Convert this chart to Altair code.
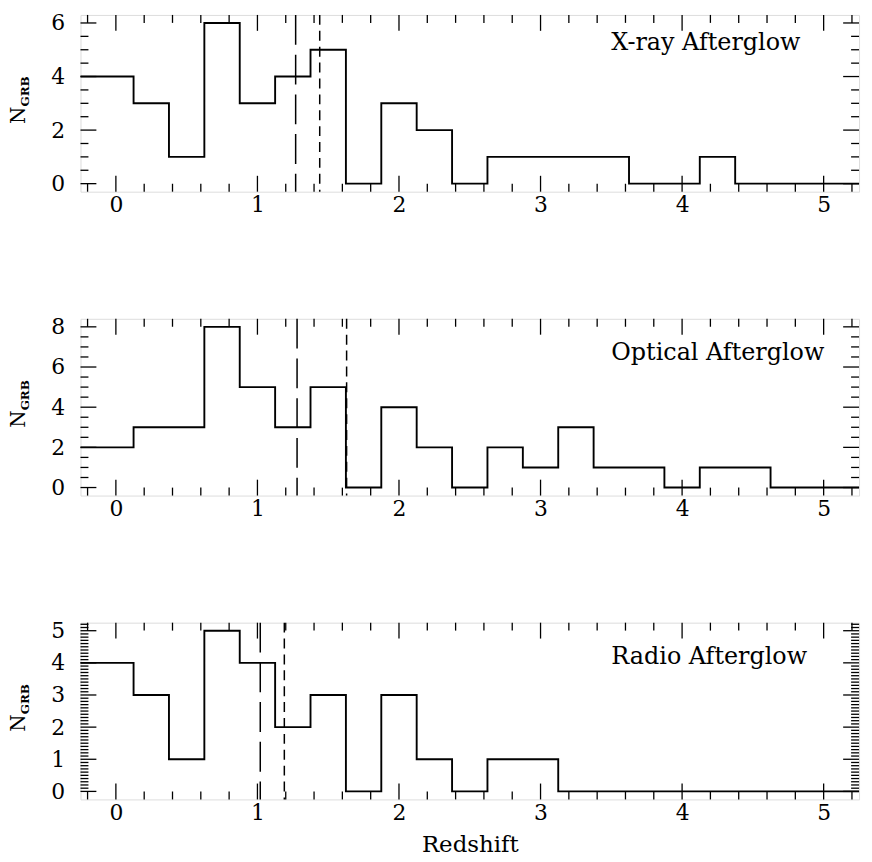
import altair as alt
import pandas as pd

# ---------------- data ----------------
bin_centers = [0.0, 0.25, 0.5, 0.75, 1.0, 1.25, 1.5, 1.75, 2.0, 2.25, 2.5,
               2.75, 3.0, 3.25, 3.5, 3.75, 4.0, 4.25, 4.5, 4.75, 5.0]
xray_counts = [4, 3, 1, 6, 3, 4, 5, 0, 3, 2, 0, 1, 1, 1, 1, 0, 0, 1, 0, 0, 0]
optical_counts = [2, 3, 3, 8, 5, 3, 5, 0, 4, 2, 0, 2, 1, 3, 1, 1, 0, 1, 1, 0, 0]
radio_counts = [4, 3, 1, 5, 4, 2, 3, 0, 3, 1, 0, 1, 1, 0, 0, 0, 0, 0, 0, 0, 0]

panel_labels = ["X-ray Afterglow", "Optical Afterglow", "Radio Afterglow"]
label_z = [3.5, 3.5, 3.5]
label_n = [5.0, 6.37, 3.96]
long_dash_z = [1.27, 1.28, 1.02]
short_dash_z = [1.44, 1.63, 1.19]
y_max = [6, 8, 5]
y_major = [[0, 2, 4, 6], [0, 2, 4, 6, 8], [0, 1, 2, 3, 4, 5]]
y_minor_step = [0.5, 0.5, 0.1]
x_major = [0, 1, 2, 3, 4, 5]
X_MIN, X_MAX = -0.25, 5.25
HALF_BIN = 0.125

W, H = 784, 178
FONT = "DejaVu Serif"
MAJ, MIN = 16, 8


def frange(a, b, step):
    out = []
    k = 0
    while True:
        v = round(a + k * step, 4)
        if v > b + 1e-9:
            break
        out.append(v)
        k += 1
    return out


def panel(counts, label, lz, ln, zl, zs, ymax, ymaj, ystep, show_title):
    ymin_d, ymax_d = -0.05 * ymax, 1.05 * ymax
    xs = alt.Scale(domain=[X_MIN, X_MAX], nice=False, zero=False)
    ys = alt.Scale(domain=[ymin_d, ymax_d], nice=False, zero=False)
    xaxis = alt.Axis(
        values=x_major, ticks=False, domain=False, grid=False,
        labelFont=FONT, labelFontSize=22, labelColor="black", labelPadding=3,
        title="Redshift" if show_title else None,
        titleFont=FONT, titleFontSize=23, titleFontWeight="normal",
        titleColor="black", titlePadding=10)
    yaxis = alt.Axis(
        values=ymaj, ticks=False, domain=False, grid=False,
        labelFont=FONT, labelFontSize=22, labelColor="black",
        labelPadding=16, title=None, format="d")

    def X(f):
        return alt.X(f, scale=xs, axis=xaxis, title="Redshift" if show_title else None)

    def Y(f):
        return alt.Y(f, scale=ys, axis=yaxis, title=None)

    xpts = [X_MIN] + [c + HALF_BIN for c in bin_centers[:-1]] + [X_MAX]
    ypts = list(counts) + [counts[-1]]
    step = pd.DataFrame({"z": xpts, "n": ypts, "i": list(range(len(xpts)))})

    base_line = alt.Chart(step).mark_line(
        interpolate="step-after", color="black", strokeWidth=1.9
    ).encode(x=X("z:Q"), y=Y("n:Q"), order="i:Q")

    long_rule = alt.Chart(pd.DataFrame({"z": [zl]})).mark_rule(
        color="black", strokeWidth=1.5, strokeDash=[30, 10]
    ).encode(x=X("z:Q"))
    short_rule = alt.Chart(pd.DataFrame({"z": [zs]})).mark_rule(
        color="black", strokeWidth=1.5, strokeDash=[10, 6]
    ).encode(x=X("z:Q"))

    # inward ticks
    xmin_ticks = [v for v in frange(-0.2, 5.2, 0.2) if abs(v - round(v)) > 1e-6]
    ymin_ticks = [v for v in frange(0, ymax_d, ystep)
                  if all(abs(v - m) > 1e-6 for m in ymaj)]

    def xt(vals, length, top):
        d = pd.DataFrame({"z": vals})
        y0, y1 = (0, length) if top else (H, H - length)
        return alt.Chart(d).mark_rule(color="black", strokeWidth=1.3).encode(
            x=X("z:Q"), y=alt.value(y0), y2=alt.value(y1))

    def yt(vals, length, right):
        d = pd.DataFrame({"n": vals})
        x0, x1 = (W, W - length) if right else (0, length)
        return alt.Chart(d).mark_rule(color="black", strokeWidth=1.3).encode(
            y=Y("n:Q"), x=alt.value(x0), x2=alt.value(x1))

    ticks = [xt(x_major, MAJ, False), xt(x_major, MAJ, True),
             xt(xmin_ticks, MIN, False), xt(xmin_ticks, MIN, True),
             yt(ymaj, MAJ, False), yt(ymaj, MAJ, True),
             yt(ymin_ticks, MIN, False), yt(ymin_ticks, MIN, True)]

    ann = alt.Chart(pd.DataFrame({"z": [lz], "n": [ln], "t": [label]})).mark_text(
        align="left", baseline="alphabetic", font=FONT, fontSize=24, color="black"
    ).encode(x=X("z:Q"), y=Y("n:Q"), text="t:N")

    ytitle_n = alt.Chart(pd.DataFrame({"t": ["N"]})).mark_text(
        angle=270, align="center", baseline="middle", font=FONT, fontSize=20,
        color="black"
    ).encode(x=alt.value(-62), y=alt.value(H / 2 + 12), text="t:N")
    ytitle_sub = alt.Chart(pd.DataFrame({"t": ["GRB"]})).mark_text(
        angle=270, align="center", baseline="middle", font=FONT, fontSize=12,
        fontWeight="bold", color="black"
    ).encode(x=alt.value(-56), y=alt.value(H / 2 - 12), text="t:N")

    return alt.layer(base_line, long_rule, short_rule, *ticks, ann,
                     ytitle_n, ytitle_sub).properties(width=W, height=H)


p1 = panel(xray_counts, panel_labels[0], label_z[0], label_n[0], long_dash_z[0],
           short_dash_z[0], y_max[0], y_major[0], y_minor_step[0], False)
p2 = panel(optical_counts, panel_labels[1], label_z[1], label_n[1], long_dash_z[1],
           short_dash_z[1], y_max[1], y_major[1], y_minor_step[1], False)
p3 = panel(radio_counts, panel_labels[2], label_z[2], label_n[2], long_dash_z[2],
           short_dash_z[2], y_max[2], y_major[2], y_minor_step[2], True)

chart = alt.vconcat(p1, p2, p3, spacing=99, padding=0).configure_view(
    stroke="black", strokeWidth=1.8
).configure(background="white")

chart.save("out.html", embed_options={"renderer": "svg", "actions": False})
